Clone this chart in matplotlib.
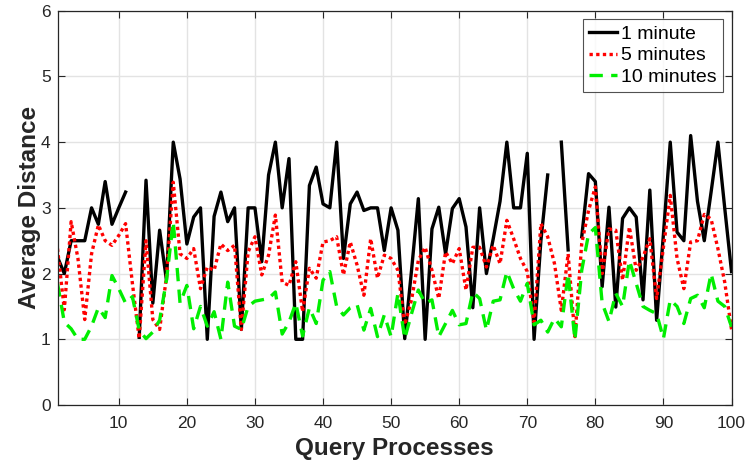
import numpy as np
import matplotlib
matplotlib.use("Agg")
import matplotlib.pyplot as plt

nan = np.nan
x = list(range(1, 101))

one_minute = [2.25, 2.0, 2.5, 2.5, 2.5, 3.0, 2.75, 3.4, 2.75, 3.0,
              3.24, nan, 1.03, 3.42, 1.55, 2.66, 1.9, 4.0, 3.44, 2.45,
              2.86, 3.0, 1.0, 2.87, 3.24, 2.79, 3.0, 1.15, 3.0, 3.0,
              2.18, 3.5, 4.0, 3.0, 3.75, 1.0, 1.0, 3.34, 3.62, 3.06,
              3.0, 4.0, 2.23, 3.06, 3.24, 2.96, 3.0, 3.0, 2.35, 3.0,
              2.66, 1.01, 2.05, 3.14, 1.0, 2.68, 3.01, 2.3, 2.99, 3.14,
              2.71, 1.48, 3.0, 2.0, 2.53, 3.1, 4.0, 3.0, 3.0, 3.83,
              1.0, 2.5, 3.5, nan, 4.0, 2.36, nan, 2.56, 3.52, 3.4,
              1.8, 3.01, 1.49, 2.84, 3.0, 2.86, 1.6, 3.27, 1.29, 2.6,
              4.0, 2.63, 2.5, 4.1, 3.1, 2.5, 3.24, 4.0, 3.0, 2.03]

five_minutes = [2.38, 1.45, 2.79, 2.23, 1.3, 2.3, 2.74, 2.5, 2.43, 2.58,
                2.76, 1.85, 1.01, 2.5, 1.3, 1.15, 1.95, 3.39, 2.3, 2.23,
                2.38, 1.77, 2.1, 2.05, 2.45, 2.35, 2.43, 1.15, 2.33, 2.56,
                1.98, 2.28, 2.89, 1.87, 1.82, 2.18, 1.42, 2.08, 1.93, 2.48,
                2.5, 2.56, 1.98, 2.48, 2.13, 1.67, 2.53, 1.93, 2.28, 2.23,
                2.05, 1.22, 1.6, 2.2, 2.4, 2.05, 1.62, 2.33, 2.15, 2.38,
                1.75, 2.4, 2.4, 2.1, 2.43, 2.15, 2.81, 2.53, 2.23, 2.03,
                1.26, 2.76, 2.56, 2.15, 1.44, 2.3, 1.04, 2.46, 2.96, 3.32,
                2.0, 2.68, 2.66, 1.9, 2.71, 2.05, 2.25, 2.53, 1.62, 2.4,
                3.19, 2.23, 1.77, 2.48, 2.5, 2.9, 2.83, 2.38, 1.87, 1.15]

ten_minutes = [1.85, 1.26, 1.16, 1.0, 1.0, 1.2, 1.48, 1.33, 1.97, 1.77,
               1.55, 1.65, 1.14, 1.01, 1.11, 1.29, 1.9, 2.79, 1.55, 1.82,
               1.16, 1.5, 1.2, 1.42, 1.0, 1.87, 1.2, 1.15, 1.5, 1.58,
               1.6, 1.62, 1.72, 1.08, 1.26, 1.55, 1.05, 1.48, 1.24, 1.9,
               2.03, 1.5, 1.37, 1.48, 1.53, 1.14, 1.47, 1.04, 1.37, 1.04,
               1.7, 1.01, 1.39, 1.75, 1.55, 1.6, 1.04, 1.24, 1.44, 1.22,
               1.24, 1.72, 1.62, 1.14, 1.58, 1.6, 2.03, 1.77, 1.58, 1.85,
               1.22, 1.29, 1.11, 1.32, 1.19, 2.0, 0.99, 2.05, 2.6, 2.7,
               1.55, 1.27, 1.7, 1.5, 2.2, 1.85, 1.5, 1.44, 1.39, 1.01,
               1.6, 1.5, 1.24, 1.62, 1.67, 1.48, 2.0, 1.58, 1.5, 1.19]

series_labels = ["1 minute", "5 minutes", "10 minutes"]
x_ticks = list(range(10, 101, 10))
y_ticks = list(range(0, 7))

plt.rcParams['font.family'] = ['Liberation Sans', 'DejaVu Sans']

fig = plt.figure(figsize=(7.45, 4.65), dpi=100)
ax = fig.add_axes([0.0772, 0.129, 0.9047, 0.848])

ax.plot(x, one_minute, color='black', lw=2.4, ls='-', label=series_labels[0])
ax.plot(x, five_minutes, color='red', lw=2.4, ls=(0, (1, 1)), label=series_labels[1])
ax.plot(x, ten_minutes, color='#00ee00', lw=2.4, ls=(0, (4, 2.5)), label=series_labels[2])

ax.set_xlim(1, 100)
ax.set_ylim(0, 6)
ax.set_xticks(x_ticks)
ax.set_yticks(y_ticks)
ax.grid(True, color='#e3e3e3', lw=1.0)
ax.set_axisbelow(True)
ax.tick_params(direction='in', top=True, right=True, labelsize=12.5,
               colors='#262626', length=5, width=0.8)
ax.tick_params(axis='x', pad=8)
ax.tick_params(axis='y', pad=5)
for s in ax.spines.values():
    s.set_color('#262626')
    s.set_linewidth(0.9)

ax.set_xlabel("Query Processes", fontsize=17.5, fontweight='bold', color='#262626', labelpad=4)
ax.set_ylabel("Average Distance", fontsize=17.5, fontweight='bold', color='#262626', labelpad=0)

leg = ax.legend(loc='upper right', fontsize=14, frameon=True, fancybox=False,
                edgecolor='#262626', handlelength=1.45, handletextpad=0.2,
                borderpad=0.3, labelspacing=0.2, borderaxespad=0.45)
leg.get_frame().set_linewidth(0.8)

fig.savefig("out.png", dpi=100)
